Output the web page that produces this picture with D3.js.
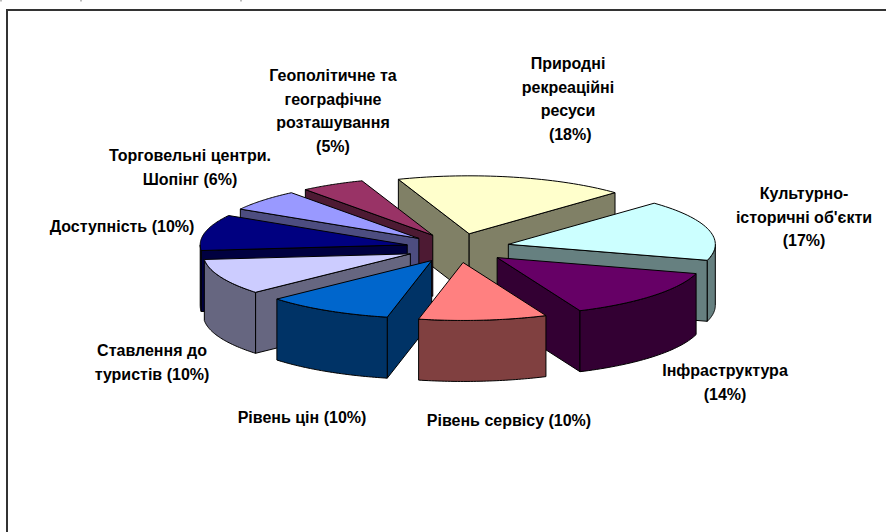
<!DOCTYPE html>
<html>
<head>
<meta charset="utf-8">
<script src="https://cdnjs.cloudflare.com/ajax/libs/d3/7.8.5/d3.min.js"></script>
<style>
    html, body { margin: 0; padding: 0; background: #fff; overflow: hidden; }
    svg { display: block; }
</style>
</head>
<body>
<div id="chart"></div>
<script>
// Data
const categories = [
    "Природні рекреаційні ресуси",
    "Культурно-історичні об'єкти",
    "Інфраструктура",
    "Рівень сервісу",
    "Рівень цін",
    "Ставлення до туристів",
    "Доступність",
    "Торговельні центри. Шопінг",
    "Геополітичне та географічне розташування"
];
const shares = [18, 17, 14, 10, 10, 10, 10, 6, 5];
const labelLines = [
    ["Природні", "рекреаційні", "ресуси", "\u00a0(18%)"],
    ["Культурно-", "історичні об'єкти", "(17%)"],
    ["Інфраструктура", "(14%)"],
    ["Рівень сервісу (10%)"],
    ["Рівень цін (10%)"],
    ["Ставлення до", "туристів (10%)"],
    ["Доступність (10%)"],
    ["Торговельні центри.", "Шопінг (6%)"],
    ["Геополітичне та", "географічне", "розташування", "(5%)"]
];

// Styles and label anchors, same order as the categories
const sliceColors = ["#FFFFCC", "#CCFFFF", "#660066", "#FF8080", "#0066CC",
    "#CCCCFF", "#000080", "#9999FF", "#993366"];
const labelAnchors = [[568, 69], [804, 199], [725, 376], [509, 426], [302, 423],
    [152, 356], [122, 232], [190, 161], [333, 81]];

const width = 886, height = 532;
const cx = 458, cy = 248;        // pie centre on screen
const radius = 207;              // pie radius
const explode = 52;              // how far every slice is pulled out
const tilt = 0.28;               // vertical squash of the pie plane
const depth = 61;                // height of the slices
const firstAngle = -20 * Math.PI / 180;
const lineHeight = 23.5;

const svg = d3.select("#chart")
    .append("svg")
    .attr("width", width)
    .attr("height", height);

// Frame, open on the right and at the bottom
svg.append("path")
    .attr("d", d3.line()([[7, height], [7, 10], [width, 10]]))
    .attr("fill", "none")
    .attr("stroke", "#333")
    .attr("stroke-width", 2);

// Small leftovers at the very top of the picture
[1, 81, 241].forEach(x => {
    svg.append("rect")
        .attr("x", x - 1).attr("y", 0)
        .attr("width", 2).attr("height", 1.5)
        .attr("fill", "#bbb");
});

// Angles come from d3.pie, clockwise from twelve o'clock
const arcs = d3.pie()
    .sort(null)
    .startAngle(firstAngle)
    .endAngle(firstAngle + 2 * Math.PI)(shares);

const slices = arcs.map((a, i) => {
    let mid = (a.startAngle + a.endAngle) / 2;
    return {
        start: a.startAngle,
        end: a.endAngle,
        color: sliceColors[i],
        ax: cx + explode * Math.sin(mid),
        ay: cy - explode * tilt * Math.cos(mid)
    };
});

// Painter's order: the slices further back go first
slices.sort((a, b) => a.ay - b.ay);

const line = d3.line();

function rimPoint(s, angle, drop) {
    return [s.ax + radius * Math.sin(angle),
            s.ay - radius * tilt * Math.cos(angle) + drop];
}

// Points along the rim between two angles
function rimPoints(s, from, to, drop) {
    return d3.range(0, 41).map(k => rimPoint(s, from + (to - from) * k / 40, drop));
}

function wallColor(c) {
    let rgb = d3.rgb(c);
    return d3.rgb(rgb.r / 2, rgb.g / 2, rgb.b / 2).formatHex();
}

function addFace(g, points, fill) {
    g.append("path")
        .attr("d", line(points) + "Z")
        .attr("fill", fill)
        .attr("stroke", "#000")
        .attr("stroke-width", 1)
        .attr("stroke-linejoin", "round");
}

const pieGroup = svg.append("g");

slices.forEach(s => {
    let g = pieGroup.append("g");
    let wall = wallColor(s.color);

    // Flat side walls, only those that face the viewer
    let sides = [
        {angle: s.start, normal: s.start - Math.PI / 2},
        {angle: s.end, normal: s.end + Math.PI / 2}
    ];
    sides.forEach(side => {
        if (Math.cos(side.normal) < 0) {
            let p = rimPoint(s, side.angle, 0);
            addFace(g, [[s.ax, s.ay], p, [p[0], p[1] + depth], [s.ax, s.ay + depth]], wall);
        }
    });

    // Outer wall, the part on the front half of the pie
    let back = [Math.PI / 2, 3 * Math.PI / 2];
    let from = Math.max(s.start, back[0]);
    let to = Math.min(s.end, back[1]);
    if (to > from) {
        addFace(g, rimPoints(s, from, to, 0).concat(rimPoints(s, to, from, depth)), wall);
    }

    // Top face
    addFace(g, [[s.ax, s.ay]].concat(rimPoints(s, s.start, s.end, 0)), s.color);
});

// Labels
const labels = svg.append("g")
    .attr("font-family", "'Liberation Sans', Arial, sans-serif")
    .attr("font-size", "16px")
    .attr("font-weight", "bold")
    .attr("fill", "#000")
    .attr("text-anchor", "middle");

labelLines.forEach((lines, i) => {
    let text = labels.append("text")
        .attr("data-category", categories[i]);
    lines.forEach((t, j) => {
        text.append("tspan")
            .attr("x", labelAnchors[i][0])
            .attr("y", labelAnchors[i][1] + j * lineHeight)
            .text(t);
    });
});
</script>
</body>
</html>
